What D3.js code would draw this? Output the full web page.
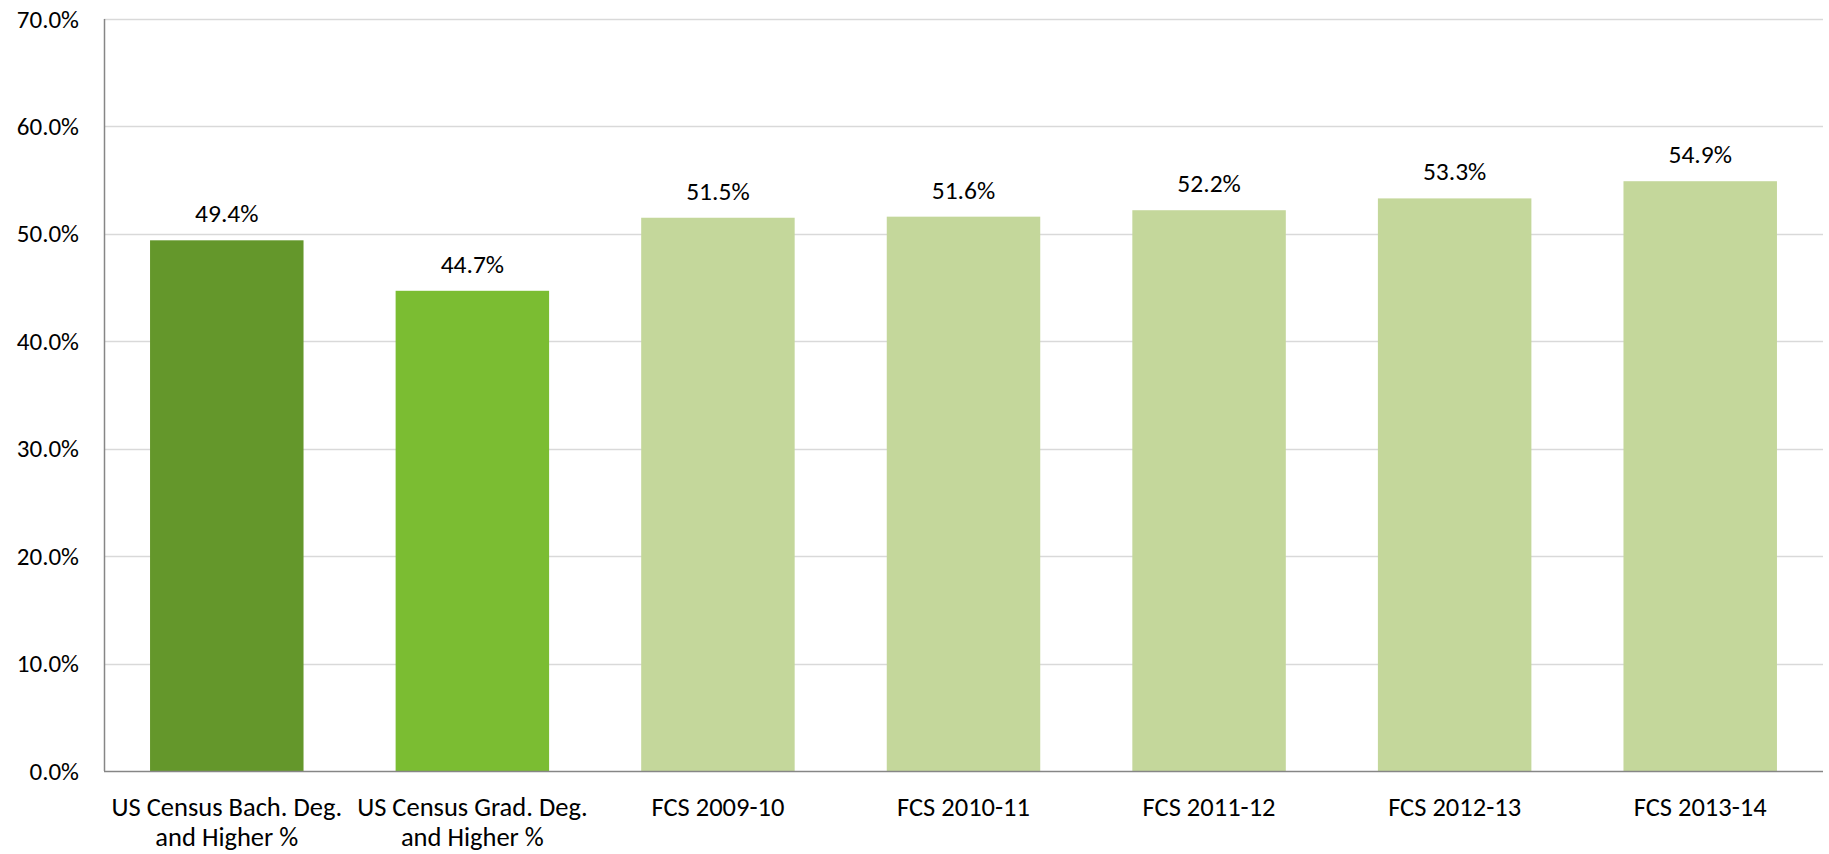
<!DOCTYPE html>
<html>
<head>
<meta charset="utf-8">
<script src="https://cdn.jsdelivr.net/npm/d3@7"></script>
<style>
  html, body { margin: 0; padding: 0; background: #fff; }
  svg text { font-family: Carlito, Calibri, Lato, "Open Sans", sans-serif; fill: #000; }
</style>
</head>
<body>
<div id="chart"></div>
<script>
// chart data
var categories = [
    ['US Census Bach. Deg.', 'and Higher %'],
    ['US Census Grad. Deg.', 'and Higher %'],
    ['FCS 2009-10'],
    ['FCS 2010-11'],
    ['FCS 2011-12'],
    ['FCS 2012-13'],
    ['FCS 2013-14']
];
var values = [49.4, 44.7, 51.5, 51.6, 52.2, 53.3, 54.9];
var barColors = ['#64972b', '#7bbd32', '#c4d79b', '#c4d79b', '#c4d79b', '#c4d79b', '#c4d79b'];
var yTicks = [0, 10, 20, 30, 40, 50, 60, 70];

var WIDTH = 1829, HEIGHT = 854;
var margin = {top: 19, right: 6, bottom: 83, left: 104};
var plotW = WIDTH - margin.left - margin.right;
var plotH = HEIGHT - margin.top - margin.bottom;

var svg = d3.select('#chart').append('svg')
    .attr('width', WIDTH)
    .attr('height', HEIGHT);

var g = svg.append('g').attr('transform', 'translate(' + margin.left + ',' + margin.top + ')');

var x = d3.scaleBand()
    .domain(d3.range(categories.length))
    .range([0, plotW])
    .paddingInner(0.375)
    .paddingOuter(0.1875);

var y = d3.scaleLinear().domain([0, 70]).range([plotH, 0]);

// gridlines
g.selectAll('line.grid')
    .data(yTicks.filter(function (t) { return t > 0; }))
    .enter().append('line')
    .attr('class', 'grid')
    .attr('x1', 0).attr('x2', plotW)
    .attr('y1', function (d) { return Math.round(y(d)) + 0.5; })
    .attr('y2', function (d) { return Math.round(y(d)) + 0.5; })
    .attr('stroke', '#d9d9d9')
    .attr('stroke-width', 1.5);

// y axis
var yAxis = d3.axisLeft(y)
    .tickValues(yTicks)
    .tickSize(0)
    .tickPadding(25)
    .tickFormat(function (d) { return d.toFixed(1) + '%'; });
var yG = g.append('g').call(yAxis);
yG.select('.domain').remove();
yG.selectAll('text').style('font-size', '25px');

// bars
g.selectAll('rect.bar')
    .data(values)
    .enter().append('rect')
    .attr('class', 'bar')
    .attr('x', function (d, i) { return x(i); })
    .attr('width', x.bandwidth())
    .attr('y', function (d) { return y(d); })
    .attr('height', function (d) { return plotH - y(d); })
    .attr('fill', function (d, i) { return barColors[i]; });

// value labels
g.selectAll('text.val')
    .data(values)
    .enter().append('text')
    .attr('class', 'val')
    .attr('x', function (d, i) { return x(i) + x.bandwidth() / 2; })
    .attr('y', function (d) { return y(d) - 18; })
    .attr('text-anchor', 'middle')
    .style('font-size', '25.5px')
    .text(function (d) { return d.toFixed(1) + '%'; });

// axis lines
g.append('line')
    .attr('x1', 0.5).attr('x2', 0.5)
    .attr('y1', 0).attr('y2', plotH)
    .attr('stroke', '#868686').attr('stroke-width', 1.5);
g.append('line')
    .attr('x1', 0).attr('x2', plotW)
    .attr('y1', plotH + 0.5).attr('y2', plotH + 0.5)
    .attr('stroke', '#868686').attr('stroke-width', 1.5);

// category labels
var xl = g.selectAll('text.cat')
    .data(categories)
    .enter().append('text')
    .attr('class', 'cat')
    .attr('text-anchor', 'middle')
    .style('font-size', '26.5px')
    .attr('transform', function (d, i) {
        return 'translate(' + (x(i) + x.bandwidth() / 2) + ',' + (plotH + 45) + ')';
    });
xl.selectAll('tspan')
    .data(function (d) { return d; })
    .enter().append('tspan')
    .attr('x', 0)
    .attr('dy', function (d, i) { return i === 0 ? 0 : 30; })
    .text(function (d) { return d; });
</script>
</body>
</html>
